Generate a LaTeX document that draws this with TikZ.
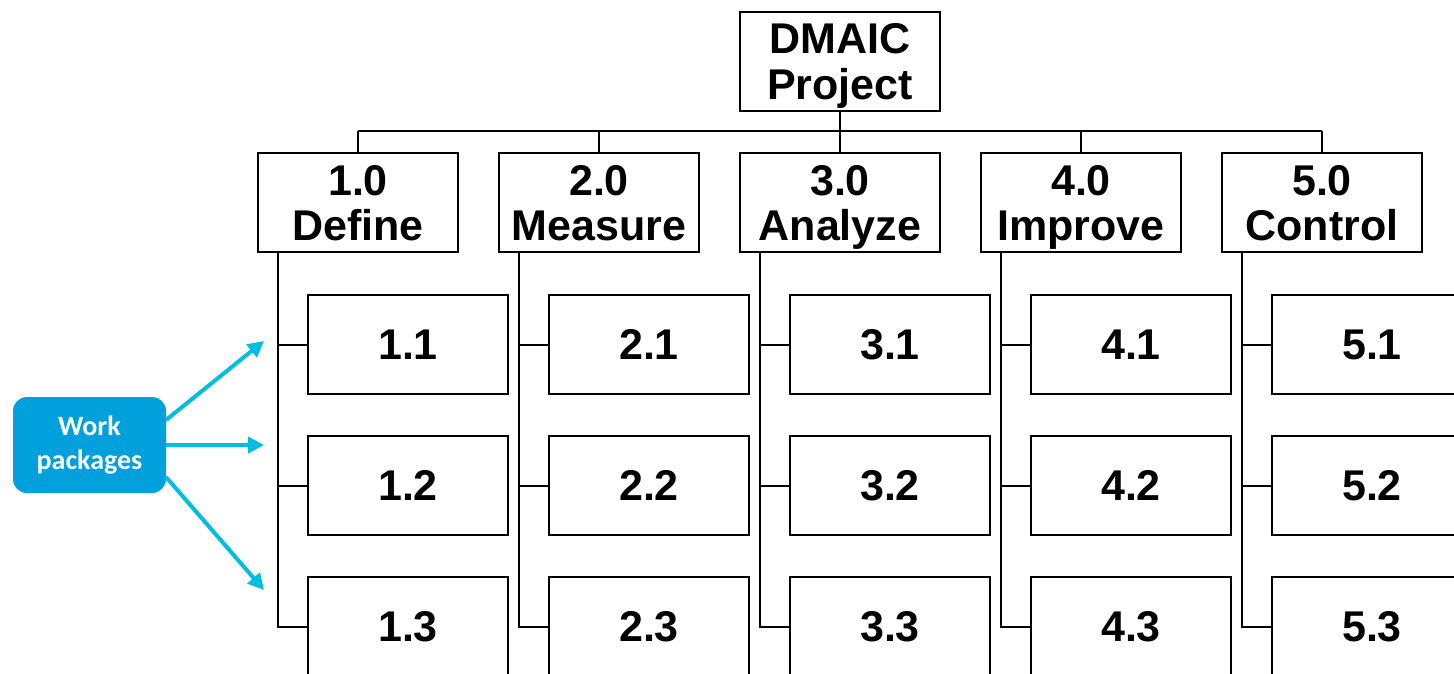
\documentclass[tikz,border=0pt]{standalone}
\usepackage{fontspec}
\setmainfont{Liberation Sans}
\newfontfamily\calib{Carlito}
\usetikzlibrary{arrows.meta}
\definecolor{wpblue}{RGB}{0,160,220}
\definecolor{arrcyan}{RGB}{0,190,225}
\begin{document}
\begin{tikzpicture}[x=1pt,y=-1pt,
  box/.style={draw=black,line width=2pt,minimum width=200pt,minimum height=99pt,inner sep=0pt,
     align=center,font=\bfseries\fontsize{43}{45.5}\selectfont,fill=white,
     text height=30.5pt,text depth=0pt},
  twoline/.style={box,text height=76pt,text depth=0pt},
  conn/.style={draw=black,line width=2pt},
  wparrow/.style={draw=arrcyan,line width=4pt,-{Triangle[length=16pt,width=16pt]}}]
\useasboundingbox (0,0) rectangle (1454,674);
\clip (0,0) rectangle (1454,674);
% top
\node[twoline] (top) at (840,61.5) {DMAIC\\Project};
\coordinate (busL) at (358,131);
\coordinate (busR) at (1322,131);
\draw[conn] (busL) -- (busR);
\draw[conn] (top.south) -- (top.south |- busL);
\foreach \i/\lab [count=\n from 1] in {0/{1.0\\Define},1/{2.0\\Measure},2/{3.0\\Analyze},3/{4.0\\Improve},4/{5.0\\Control}}{
  \node[twoline] (L\n) at ({358+241*\i},202.5) {\lab};
  \draw[conn] (L\n.north) -- (L\n.north |- busL);
  \coordinate (S\n) at ({278+241*\i},252);
  \foreach \j/\yy in {1/344.5,2/485.5,3/626.5}{
    \node[box] (W\n\j) at ({408+241*\i},\yy) {\n.\j};
  }
  \draw[conn] (S\n) |- (W\n3.west);
  \draw[conn] (S\n |- W\n1.west) -- (W\n1.west);
  \draw[conn] (S\n |- W\n2.west) -- (W\n2.west);
}
% work packages
\node[fill=wpblue,rounded corners=14pt,minimum width=153pt,minimum height=96pt,inner sep=0pt,
  text=white,align=center,font=\calib\bfseries\fontsize{28}{34}\selectfont] (wp) at (89.5,445) {Work\\packages};
\coordinate (t1) at (264,341);
\coordinate (t2) at (264,445);
\coordinate (t3) at (264,590);
\draw[wparrow] (166,420) -- (t1);
\draw[wparrow] (wp.east) -- (t2);
\draw[wparrow] (166,477) -- (t3);
\end{tikzpicture}
\end{document}
